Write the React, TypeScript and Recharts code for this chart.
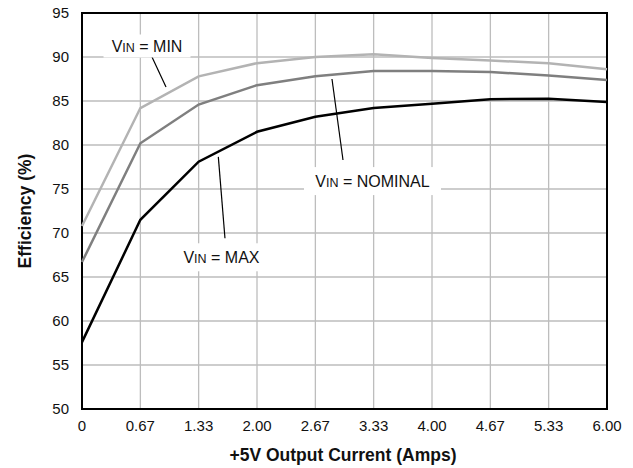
import { LineChart, Line, XAxis, YAxis, CartesianGrid, ReferenceArea, ReferenceLine, ReferenceDot } from "recharts";

const currents = [0, 0.667, 1.333, 2.0, 2.667, 3.333, 4.0, 4.667, 5.333, 6.0];
const currentLabels = ["0", "0.67", "1.33", "2.00", "2.67", "3.33", "4.00", "4.67", "5.33", "6.00"];
const efficiencyTicks = [50, 55, 60, 65, 70, 75, 80, 85, 90, 95];

const vinMin = [70.8, 84.2, 87.8, 89.3, 90.0, 90.3, 89.9, 89.6, 89.3, 88.6];
const vinNominal = [66.7, 80.2, 84.6, 86.8, 87.8, 88.4, 88.4, 88.3, 87.9, 87.4];
const vinMax = [57.6, 71.5, 78.1, 81.5, 83.2, 84.2, 84.7, 85.2, 85.25, 84.9];

const data = currents.map((x, i) => ({
  x,
  min: vinMin[i],
  nominal: vinNominal[i],
  max: vinMax[i],
}));

const FONT = "'Liberation Sans', Arial, Helvetica, sans-serif";

// white box behind the annotation so the grid is cut, like the original
const VinLabel = ({ cx, cy, text, w, h }: any) => (
  <g>
    <rect x={cx - w / 2} y={cy - h / 2} width={w} height={h} fill="#fff" />
    <text x={cx} y={cy + 6} textAnchor="middle" fontFamily={FONT} fill="#111">
      <tspan fontSize={16}>V</tspan>
      <tspan fontSize={12.5}>IN</tspan>
      <tspan fontSize={16}>{" = " + text}</tspan>
    </text>
  </g>
);

export default function App() {
  return (
    <div style={{ position: "absolute", left: 0, top: 0, background: "#fff" }}>
      <LineChart
        width={633}
        height={468}
        data={data}
        margin={{ top: 13, right: 26, bottom: 0, left: 0 }}
      >
        <CartesianGrid stroke="#bdbdbd" strokeWidth={1.3} />
        <XAxis
          dataKey="x"
          type="number"
          domain={[0, 6]}
          ticks={currents}
          tickFormatter={(v: number) => currentLabels[currents.indexOf(v)]}
          axisLine={false}
          tickLine={false}
          tickMargin={5}
          height={59}
          tick={{ fontSize: 15, fill: "#111", fontFamily: FONT }}
          label={{
            content: () => (
              <text
                x={343}
                y={455}
                textAnchor="middle"
                dominantBaseline="central"
                fontFamily={FONT}
                fontWeight="bold"
                fontSize={17.5}
                fill="#111"
              >
                +5V Output Current (Amps)
              </text>
            ),
          }}
        />
        <YAxis
          type="number"
          domain={[50, 95]}
          ticks={efficiencyTicks}
          axisLine={false}
          tickLine={false}
          tickMargin={7}
          width={82}
          tick={{ fontSize: 15, fill: "#111", fontFamily: FONT }}
          label={{
            content: () => (
              <text
                x={25}
                y={211}
                transform="rotate(-90 25 211)"
                textAnchor="middle"
                dominantBaseline="central"
                fontFamily={FONT}
                fontWeight="bold"
                fontSize={17.5}
                fill="#111"
              >
                Efficiency (%)
              </text>
            ),
          }}
        />
        <Line dataKey="min" stroke="#b3b3b3" strokeWidth={2.5} dot={false} isAnimationActive={false} />
        <Line dataKey="nominal" stroke="#7f7f7f" strokeWidth={2.5} dot={false} isAnimationActive={false} />
        <Line dataKey="max" stroke="#000" strokeWidth={2.5} dot={false} isAnimationActive={false} />
        <ReferenceArea x1={0} x2={6} y1={50} y2={95} fill="none" stroke="#000" strokeWidth={2} ifOverflow="visible" />

        {/* leader lines */}
        <ReferenceLine segment={[{ x: 0.8, y: 90.0 }, { x: 0.96, y: 86.6 }]} stroke="#000" strokeWidth={1.2} />
        <ReferenceLine segment={[{ x: 2.857, y: 87.5 }, { x: 2.983, y: 78.3 }]} stroke="#000" strokeWidth={1.2} />
        <ReferenceLine segment={[{ x: 1.558, y: 78.65 }, { x: 1.634, y: 69.4 }]} stroke="#000" strokeWidth={1.2} />

        <ReferenceDot x={0.743} y={91.25} ifOverflow="visible" shape={(p: any) => <VinLabel cx={p.cx} cy={p.cy} text="MIN" w={87} h={23} />} />
        <ReferenceDot x={3.32} y={75.9} ifOverflow="visible" shape={(p: any) => <VinLabel cx={p.cx} cy={p.cy} text="NOMINAL" w={137} h={28} />} />
        <ReferenceDot x={1.594} y={67.24} ifOverflow="visible" shape={(p: any) => <VinLabel cx={p.cx} cy={p.cy} text="MAX" w={87} h={28} />} />
      </LineChart>
    </div>
  );
}
